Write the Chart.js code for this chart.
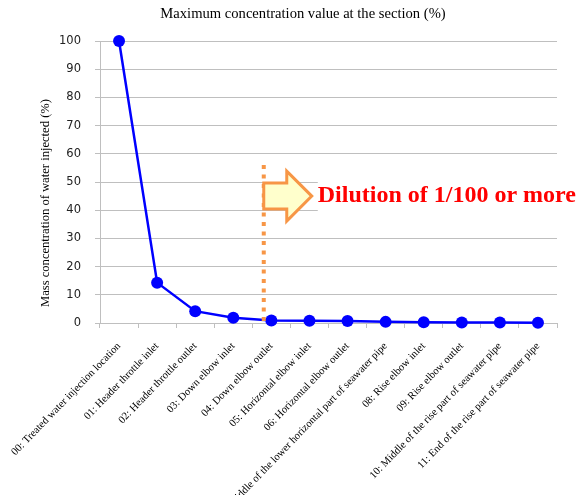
<!DOCTYPE html>
<html>
<head>
<meta charset="utf-8">
<script src="https://cdn.jsdelivr.net/npm/chart.js@4/dist/chart.umd.min.js"></script>
<style>
    html, body { margin: 0; padding: 0; background: #fff; }
    #wrap { width: 582px; height: 495px; }
</style>
</head>
<body>
<div id="wrap"><canvas id="concChart" width="582" height="495"></canvas></div>
<script>
// Sections along the pipe
const sections = [
    '00: Treated water injection location',
    '01: Header throttle inlet',
    '02: Header throttle outlet',
    '03: Down elbow inlet',
    '04: Down elbow outlet',
    '05: Horizontal elbow inlet',
    '06: Horizontal elbow outlet',
    '07: Middle of the lower horizontal part of seawater pipe',
    '08: Rise elbow inlet',
    '09: Rise elbow outlet',
    '10: Middle of the rise part of seawater pipe',
    '11: End of the rise part of seawater pipe'
];

// Max concentration (%)
const maxConcentration = [100, 14.3, 4.2, 1.9, 0.9, 0.8, 0.7, 0.4, 0.3, 0.2, 0.15, 0.1];

const yTicks = [0, 10, 20, 30, 40, 50, 60, 70, 80, 90, 100];

const chartTitle = 'Maximum concentration value at the section (%)';
const yAxisTitle = 'Mass concentration of water injected (%)';
const dilutionText = 'Dilution of 1/100 or more';

// where the dotted marker sits (category index, value range)
const markerIndex = 3.8;
const markerTop = 56;
const arrowCenter = 45;

const serif = '"Liberation Serif", "Times New Roman", serif';

// Draws the titles, dotted line, block arrow and the red note
const overlayPlugin = {
    id: 'overlay',
    afterDraw(chart) {
        const ctx = chart.ctx;
        const x = chart.scales.x;
        const y = chart.scales.y;
        const area = chart.chartArea;

        ctx.save();

        // chart title
        ctx.fillStyle = '#000';
        ctx.font = '14.6px ' + serif;
        ctx.textAlign = 'center';
        ctx.textBaseline = 'middle';
        ctx.fillText(chartTitle, 303, 14);

        // y axis title
        ctx.save();
        ctx.translate(46, 203);
        ctx.rotate(-Math.PI / 2);
        ctx.font = '12.6px ' + serif;
        ctx.fillText(yAxisTitle, 0, 0);
        ctx.restore();

        // dotted vertical line
        const lineX = x.getPixelForValue(markerIndex);
        ctx.strokeStyle = '#f79646';
        ctx.lineWidth = 4;
        ctx.setLineDash([4, 5.5]);
        ctx.beginPath();
        ctx.moveTo(lineX, y.getPixelForValue(markerTop));
        ctx.lineTo(lineX, area.bottom);
        ctx.stroke();
        ctx.setLineDash([]);

        // block arrow
        const cy = y.getPixelForValue(arrowCenter);
        ctx.beginPath();
        ctx.moveTo(lineX, cy - 13);
        ctx.lineTo(lineX + 23, cy - 13);
        ctx.lineTo(lineX + 23, cy - 25);
        ctx.lineTo(lineX + 48, cy);
        ctx.lineTo(lineX + 23, cy + 25);
        ctx.lineTo(lineX + 23, cy + 13);
        ctx.lineTo(lineX, cy + 13);
        ctx.closePath();
        ctx.fillStyle = '#ffffcc';
        ctx.fill();
        ctx.lineWidth = 3;
        ctx.lineJoin = 'miter';
        ctx.strokeStyle = '#f79646';
        ctx.stroke();

        // red note on a white box that hides the gridlines behind it
        const textX = lineX + 54;
        ctx.fillStyle = '#fff';
        ctx.fillRect(textX, cy - 25, area.right - textX + 2, 50);
        ctx.fillStyle = '#ff0000';
        ctx.font = 'bold 24px ' + serif;
        ctx.textAlign = 'left';
        ctx.textBaseline = 'alphabetic';
        ctx.fillText(dilutionText, textX, cy + 6);

        ctx.restore();
    }
};

const ctx = document.getElementById('concChart').getContext('2d');
const concChart = new Chart(ctx, {
    type: 'line',
    data: {
        labels: sections,
        datasets: [{
            data: maxConcentration,
            borderColor: '#0000ff',
            backgroundColor: '#0000ff',
            borderWidth: 2.5,
            pointRadius: 6,
            pointHoverRadius: 6,
            pointBorderWidth: 0,
            tension: 0,
            clip: false
        }]
    },
    options: {
        responsive: false,
        animation: false,
        layout: {
            padding: { top: 41, right: 25, left: 0, bottom: 0 }
        },
        plugins: {
            legend: { display: false },
            title: { display: false },
            tooltip: { enabled: false }
        },
        scales: {
            x: {
                type: 'category',
                offset: true,
                grid: {
                    offset: true,
                    drawOnChartArea: false,
                    drawTicks: true,
                    tickLength: 5,
                    color: '#bfbfbf'
                },
                border: { color: '#bfbfbf', width: 1 },
                ticks: {
                    autoSkip: false,
                    minRotation: 46,
                    maxRotation: 46,
                    padding: 12,
                    color: '#000',
                    font: { family: serif, size: 10.7 }
                },
                afterFit(scale) {
                    scale.height = 172;
                    scale.paddingLeft = 0;
                    scale.paddingRight = 0;
                }
            },
            y: {
                min: 0,
                max: 100,
                afterBuildTicks(scale) {
                    scale.ticks = yTicks.map(v => ({ value: v }));
                },
                grid: {
                    color: '#bfbfbf',
                    tickLength: 5
                },
                border: { color: '#bfbfbf', width: 1 },
                ticks: {
                    padding: 14,
                    color: '#222',
                    font: { family: '"DejaVu Sans", sans-serif', size: 11.5 }
                },
                afterFit(scale) {
                    scale.width = 100;
                }
            }
        }
    },
    plugins: [overlayPlugin]
});
</script>
</body>
</html>
